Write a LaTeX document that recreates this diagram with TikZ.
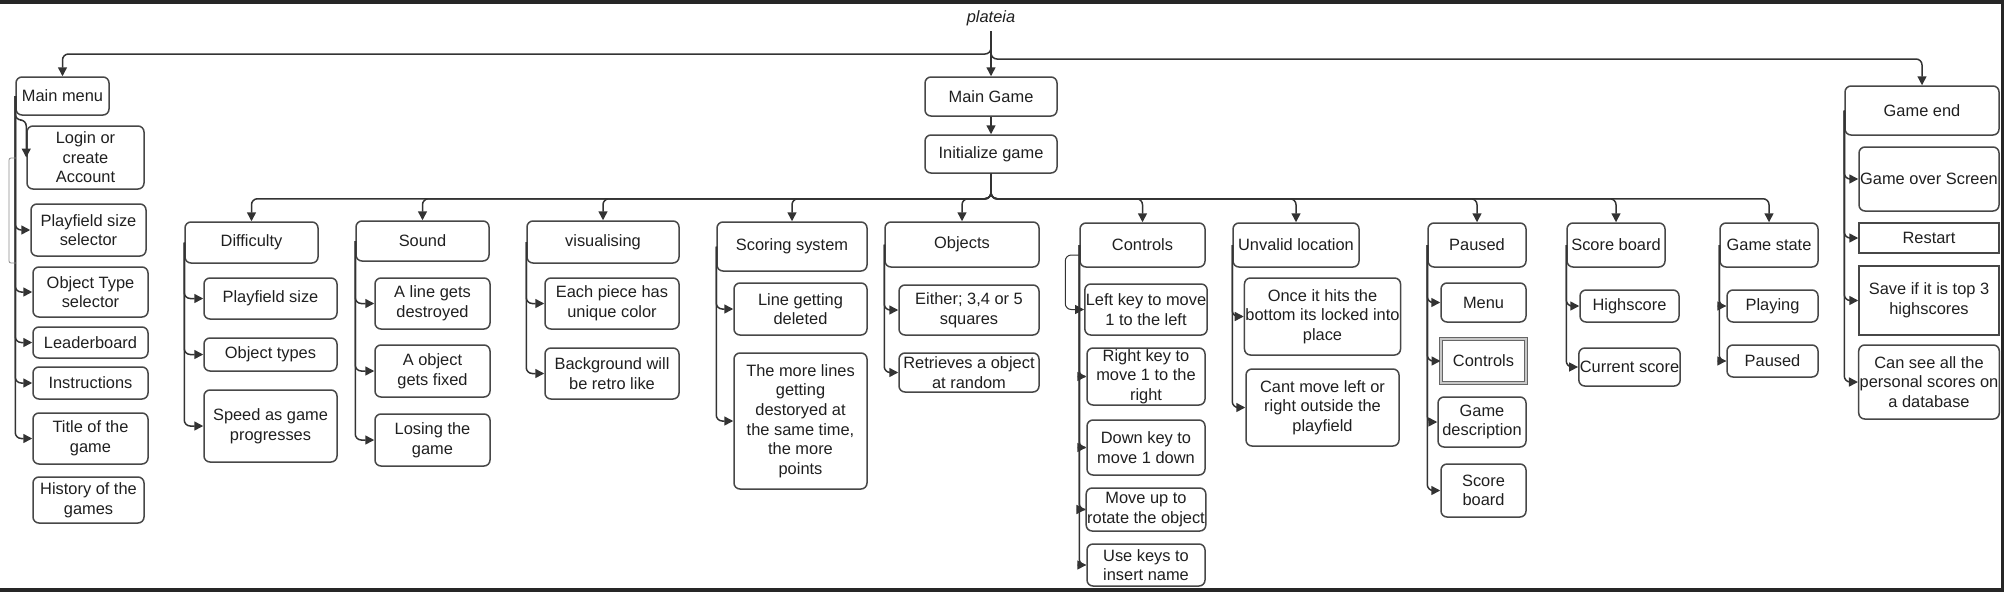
\documentclass[tikz,border=0pt]{standalone}
\usepackage{fontspec}
\setmainfont{Liberation Sans}
\usetikzlibrary{arrows.meta, calc}

\begin{document}
\begin{tikzpicture}[
    x=1pt, y=-1pt,
    font=\fontsize{16.4}{19.6}\selectfont,
    box/.style={draw=black!72, line width=1.5pt, rounded corners=6pt, align=center, inner sep=1pt, text=black!88},
    sqbox/.style={box, rounded corners=0pt},
    sz/.style 2 args={minimum width=#1pt, minimum height=#2pt},
    link/.style={-{Triangle[length=9pt, width=9pt]}, line width=1.5pt, black!80, rounded corners=6pt},
    stray/.style={line width=0.8pt, black!45, rounded corners=2pt},
  ]
    \useasboundingbox (0,0) rectangle (2004,592);
    % ---- screenshot frame ----
    \fill[black!85] (0,0) rectangle (2004,4);
    \fill[black!85] (0,588) rectangle (2004,592);
    \fill[black!85] (2001,0) rectangle (2004,592);
    % ---- root ----
    \node[inner sep=1pt, text=black!88, font=\fontsize{16.4}{19.6}\selectfont\itshape] (top) at (991,18) {plateia};
    \coordinate (fork) at (991,31);
    \node[box, sz={93}{38}] (mmenu) at (62.5,96) {Main menu};
    \node[box, sz={132}{39}] (mgame) at (991,96.5) {Main Game};
    \node[box, sz={132}{38}] (init) at (991,154) {Initialize game};
    \node[box, sz={154}{49}] (gend) at (1922,110.5) {Game end};
    \draw[link] (fork) -- (mgame.north);
    \draw[link] (fork) -- ++(0,23) -| (mmenu.north);
    \draw[link] (fork) -- ++(0,28) -| (gend.north);
    \draw[link] (mgame) -- (init);
    % ---- main menu ----
    \node[box, sz={117}{63}] (login) at (85.5,157.5) {Login or\\create\\Account};
    \node[box, sz={115}{52}] (pfsel) at (88.5,230) {Playfield size\\selector};
    \node[box, sz={115}{50}] (otsel) at (90.5,292) {Object Type\\selector};
    \node[box, sz={115}{31}] (lboard) at (90.5,342.5) {Leaderboard};
    \node[box, sz={115}{32}] (instr) at (90.5,383) {Instructions};
    \node[box, sz={115}{51}] (title) at (90.5,438.5) {Title of the\\game};
    \node[box, sz={111}{46}] (hist) at (88.5,500) {History of the\\games};
    \draw[link] (mmenu.west) -- ++(0,24) -| (login.west);
    \foreach \c in {pfsel,otsel,lboard,instr,title}{\draw[link] (mmenu.west) |- (\c.west);}
    \draw[stray] (16,158) -- (9,158) -- (9,263) -- (16,263);
    % ---- game parts ----
    \node[box, sz={133}{41}] (dif) at (251.5,242.5) {Difficulty};
    \node[box, sz={133}{40}] (snd) at (422.5,241) {Sound};
    \node[box, sz={152}{42}] (vis) at (603,242) {visualising};
    \node[box, sz={150}{49}] (score) at (792,246.5) {Scoring system};
    \node[box, sz={154}{45}] (obj) at (962,244.5) {Objects};
    \node[box, sz={125}{44}] (ctrl) at (1142.5,245) {Controls};
    \node[box, sz={126}{44}] (unval) at (1296,245) {Unvalid location};
    \node[box, sz={98}{44}] (paused) at (1477,245) {Paused};
    \node[box, sz={98}{44}] (sboard) at (1616,245) {Score board};
    \node[box, sz={98}{44}] (gstate) at (1769,245) {Game state};
    \foreach \p in {dif,snd,vis,score,obj,ctrl,unval,paused,sboard,gstate}{\draw[link] (init.south) -- ++(0,25) -| (\p.north);}
    % ---- difficulty ----
    \node[box, sz={133}{41}] (dpf) at (270.5,298.5) {Playfield size};
    \node[box, sz={133}{33}] (dot) at (270.5,354.5) {Object types};
    \node[box, sz={133}{72}] (dspd) at (270.5,426) {Speed as game\\progresses};
    \foreach \c in {dpf,dot,dspd}{\draw[link] (dif.west) |- (\c.west);}
    % ---- sound ----
    \node[box, sz={115}{51}] (sline) at (432.5,303.5) {A line gets\\destroyed};
    \node[box, sz={115}{52}] (sfix) at (432.5,371) {A object\\gets fixed};
    \node[box, sz={115}{52}] (slose) at (432.5,440) {Losing the\\game};
    \foreach \c in {sline,sfix,slose}{\draw[link] (snd.west) |- (\c.west);}
    % ---- visualising ----
    \node[box, sz={134}{51}] (vcol) at (612,303.5) {Each piece has\\unique color};
    \node[box, sz={134}{51}] (vbg) at (612,373.5) {Background will\\be retro like};
    \foreach \c in {vcol,vbg}{\draw[link] (vis.west) |- (\c.west);}
    % ---- scoring ----
    \node[box, sz={133}{52}] (sdel) at (800.5,309) {Line getting\\deleted};
    \node[box, sz={133}{136}] (smore) at (800.5,421) {The more lines\\getting\\destoryed at\\the same time,\\the more\\points};
    \foreach \c in {sdel,smore}{\draw[link] (score.west) |- (\c.west);}
    % ---- objects ----
    \node[box, sz={140}{50}] (osq) at (969,310) {Either; 3,4 or 5\\squares};
    \node[box, sz={140}{39}] (orand) at (969,372.5) {Retrieves a object\\at random};
    \foreach \c in {osq,orand}{\draw[link] (obj.west) |- (\c.west);}
    % ---- controls ----
    \node[box, sz={118}{51}] (lk) at (1146,309.5) {Left key to move\\1 to the left};
    \node[box, sz={118}{57}] (rk) at (1146,376.5) {Right key to\\move 1 to the\\right};
    \node[box, sz={118}{55}] (dk) at (1146,447.5) {Down key to\\move 1 down};
    \node[box, sz={118}{43}] (mu) at (1146,509.5) {Move up to\\rotate the object};
    \node[box, sz={118}{42}] (uk) at (1146,565) {Use keys to\\insert name};
    \draw[link, line width=1pt] ($(ctrl.west)+(0,10)$) -- ++(-14,0) |- (lk.west);
    \foreach \c in {rk,dk,mu,uk}{\draw[link] (ctrl.west) |- (\c.west);}
    % ---- unvalid location ----
    \node[box, sz={153}{77}] (ulock) at (1322.5,316.5) {Once it hits the\\bottom its locked into\\place};
    \node[box, sz={153}{77}] (uside) at (1322.5,407.5) {Cant move left or\\right outside the\\playfield};
    \foreach \c in {ulock,uside}{\draw[link] (unval.west) |- (\c.west);}
    % ---- paused ----
    \node[box, sz={85}{39}] (pmenu) at (1483.5,302.5) {Menu};
    \node[sqbox, sz={85}{44}, draw=black!60, line width=1pt, double=black!22, double distance=1.2pt] (pctrl) at (1483.5,361) {Controls};
    \node[box, sz={88}{50}] (pdesc) at (1482,422) {Game\\description};
    \node[box, sz={85}{53}] (pscore) at (1483.5,490.5) {Score\\board};
    \foreach \c in {pmenu,pctrl,pdesc,pscore}{\draw[link] (paused.west) |- (\c.west);}
    % ---- score board ----
    \node[box, sz={99}{32}] (bhigh) at (1629.5,306) {Highscore};
    \node[box, sz={99}{38}] (bcur) at (1629.5,367) {Current score};
    \foreach \c in {bhigh,bcur}{\draw[link] (sboard.west) |- (\c.west);}
    % ---- game state ----
    \node[box, sz={91}{32}] (gplay) at (1772.5,306) {Playing};
    \node[box, sz={91}{32}] (gpause) at (1772.5,361) {Paused};
    \foreach \c in {gplay,gpause}{\draw[link] (gstate.west) |- (\c.west);}
    % ---- game end ----
    \node[box, sz={140}{64}] (eover) at (1929,179) {Game over Screen};
    \node[sqbox, sz={140}{30}] (erest) at (1929,238) {Restart};
    \node[sqbox, sz={140}{69}] (esave) at (1929,300.5) {Save if it is top 3\\highscores};
    \node[box, sz={140}{74}] (eall) at (1929,382) {Can see all the\\personal scores on\\a database};
    \foreach \c in {eover,erest,esave,eall}{\draw[link] (gend.west) |- (\c.west);}
\end{tikzpicture}
\end{document}
